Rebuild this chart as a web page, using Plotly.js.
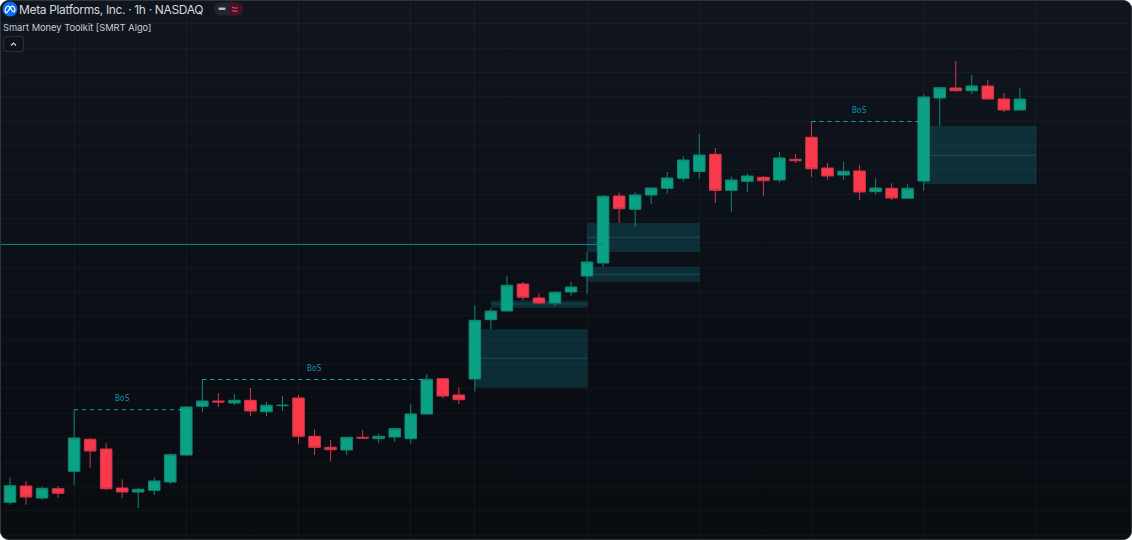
<!DOCTYPE html>
<html>
<head>
<meta charset="utf-8">
<script src="https://cdn.plot.ly/plotly-3.0.1.min.js"></script>
<style>
html,body{margin:0;padding:0;background:#fff;width:1132px;height:540px;overflow:hidden}
#frame{position:absolute;left:0;top:0;width:1132px;height:540px;border-radius:9px;overflow:hidden;
 background:linear-gradient(180deg,#11151e 0%,#0d1119 35%,#0a0d13 75%,#090c11 100%)}
#chart{position:absolute;left:0;top:0;width:1132px;height:540px}
#edge{position:absolute;left:0;top:0;width:1130px;height:538px;border:1px solid #30343c;border-radius:9px;pointer-events:none}
.chrome{position:absolute;left:0;top:0;pointer-events:none}
</style>
</head>
<body>
<div id="frame">
  <div id="chart"></div>
  <svg class="chrome" width="260" height="60">
    <circle cx="10" cy="9" r="7.5" fill="#0a6cf0"/>
    <path d="M5.2 11.3c0-3 1.5-5.2 3-5.2 2 0 3.8 5.8 5.4 5.8 .9 0 1.3-.7 1.3-1.7 0-2.2-1.2-4.1-2.5-4.1-1.2 0-2.3 1.7-3.6 3.9-1.1 1.9-1.8 2.8-2.6 2.8-.6 0-1-.5-1-1.5z" fill="none" stroke="#fff" stroke-width="1.3"/>
    <rect x="214" y="2.5" width="29" height="13" rx="6.5" fill="#23262f"/>
    <path d="M229 2.5h7.5a6.5 6.5 0 0 1 0 13H229z" fill="#451327"/>
    <rect x="218.5" y="7.5" width="7" height="2.6" rx="1.2" fill="#b9bcc4"/>
    <path d="M232 7.6c1.3-1 2.4 .8 3.7 .6 .9-.1 1.3-.4 1.8-.8M232 10.8c1.3-1 2.4 .8 3.7 .6 .9-.1 1.3-.4 1.8-.8" fill="none" stroke="#f23a5a" stroke-width="1.2"/>
    <rect x="3.5" y="36.5" width="20" height="15" rx="2.5" fill="#0f131b" stroke="#2c3038"/>
    <path d="M11 45.5l2.5-2.5 2.5 2.5" fill="none" stroke="#d5d8de" stroke-width="1.2"/>
  </svg>
  <div id="edge"></div>
</div>
<script>
// Bar values, one entry per hourly candle
var opens  = [549.77,551.4,550.2,551.13,552.87,556.07,555.1,551.2,550.8,550.97,551.8,554.5,559.37,559.9,559.7,559.97,558.83,559.43,560.2,556.37,555.27,555,556.27,556.13,556.3,556.13,558.6,562.13,560.5,562.1,568.03,568.9,571.6,570.2,569.7,570.8,572.4,573.7,580.4,579.07,580.5,581.17,582.17,582.85,584.57,580.97,581.87,582.27,582,584.07,586.27,583.2,582.5,582.9,580.83,581.17,580.17,581.9,590.2,591.2,590.93,591.4,590.1,589];
var highs  = [552.27,551.9,551.33,551.4,559.03,556.2,555.67,552.07,551.2,552.27,554.67,559.4,562.07,560.7,560.6,561.2,559.83,560.4,560.5,557.07,556,556.27,557,556.67,557.23,559.6,562.6,562.2,561.27,569.5,569.2,572.4,571.8,570.67,570.9,571.8,574.8,580.5,580.73,580.8,581.2,582.8,584.4,586.6,585.2,582.33,582.67,582.4,584.8,584.6,587.87,583.7,583.83,583.53,582.17,581.67,581.6,590.57,591.23,593.9,592.5,592,590.7,591.2];
var lows   = [549.53,549.53,550.03,550.2,551.5,553.23,551,550.2,549.2,550.5,551.63,554.4,558.8,559.3,559.47,558.4,558.4,558.9,555.63,554.5,553.9,554.5,556.1,555.67,555.8,555.63,558.5,560.17,559.6,560.83,567.07,568.9,569.93,569.6,569.4,570.43,570.63,573.3,577.7,577.33,579.6,580.67,581.83,582.15,579.7,578.83,580.8,580.4,581.73,583.7,582.3,582.03,582.03,580,580.53,580,580.17,580.93,587.4,590.83,590.6,590.1,588.8,589];
var closes = [551.43,550.3,551.17,550.67,556.2,554.9,551.13,550.8,551.07,551.9,554.53,559.3,559.9,559.8,559.97,558.9,559.47,559.47,556.37,555.27,555.03,556.27,556.2,556.37,557.13,558.6,562.07,560.4,560.03,567.97,568.9,571.47,570.27,569.7,570.77,571.3,573.8,580.37,579.13,580.5,581.2,582.2,584,584.5,580.97,582,582.4,581.93,584.2,583.93,583.13,582.4,582.87,580.8,581.2,580.2,581.17,590.3,591.23,590.93,591.4,590.1,589,590.1];

// Order-block zones
var zoneStart = [29,30,36,36,57];
var zoneEnd   = [36.03,36.03,43.03,43.03,64.03];
var zoneTop   = [567.07,569.93,577.7,573.3,587.4];
var zoneBot   = [561.26,569.23,574.8,571.83,581.6];
var zoneMid   = [564.17,569.6,576.27,572.57,584.47];

// Break-of-structure levels
var bosStart = [4,12,50];
var bosEnd   = [11,26,57];
var bosLevel = [559.03,562.05,587.85];
var bosLabelBar = [7,19,53];

// Long horizontal level
var levelPrice = 575.55;
var levelEnd = 37;

// Grid
var sessionBars = [4,11,18,25,29,36,43,50,57,64];

var bars = opens.map(function(_, i){ return i; });

var traces = [];
bosLevel.forEach(function(v, i){
  traces.push({type:'scatter',mode:'lines',x:[bosStart[i],bosEnd[i]],y:[v,v],hoverinfo:'skip',showlegend:false,
    line:{color:'#1fa3ac',width:1,dash:'4px,4px'}});
});
traces.push({type:'scatter',mode:'lines',x:[-1,levelEnd],y:[levelPrice,levelPrice],hoverinfo:'skip',showlegend:false,
  line:{color:'#14808f',width:1}});
traces.push({type:'candlestick',x:bars,open:opens,high:highs,low:lows,close:closes,showlegend:false,hoverinfo:'skip',
  whiskerwidth:0,
  increasing:{fillcolor:'#0ca084',line:{color:'#0d8a73',width:1}},
  decreasing:{fillcolor:'#f9394c',line:{color:'#d83548',width:1}}});

var shapes = [];
zoneStart.forEach(function(s, i){
  shapes.push({type:'rect',layer:'below',xref:'x',yref:'y',x0:s,x1:zoneEnd[i],y0:zoneBot[i],y1:zoneTop[i],
    fillcolor:'rgba(20,130,145,0.27)',line:{width:0}});
  shapes.push({type:'line',layer:'below',xref:'x',yref:'y',x0:s,x1:zoneEnd[i],y0:zoneMid[i],y1:zoneMid[i],
    line:{color:'rgba(45,140,155,0.35)',width:1}});
});

var annotations = [
  {xref:'paper',yref:'paper',x:19/1132,xshift:-2,y:1-9/540,xanchor:'left',yanchor:'middle',align:'left',showarrow:false,
   text:'Meta Platforms, Inc. · 1h · NASDAQ',font:{family:'Inter, Liberation Sans, sans-serif',size:12,color:'#d6d9df'}},
  {xref:'paper',yref:'paper',x:3/1132,xshift:-2,y:1-27/540,xanchor:'left',yanchor:'middle',showarrow:false,
   text:'Smart Money Toolkit [SMRT Algo]',font:{family:'Inter, Liberation Sans, sans-serif',size:9.3,color:'#c9ccd2'}}
];
bosLabelBar.forEach(function(b, i){
  annotations.push({xref:'x',yref:'y',x:b,y:bosLevel[i],yshift:11.5,xanchor:'center',yanchor:'middle',showarrow:false,
    text:'BoS',font:{family:'DejaVu Sans Mono, monospace',size:8,color:'#0e8fb0'}});
});

var layout = {
  width:1132,height:540,margin:{l:0,r:0,t:0,b:0,pad:0},
  paper_bgcolor:'rgba(0,0,0,0)',plot_bgcolor:'rgba(0,0,0,0)',
  boxgap:0.28,boxgroupgap:0,showlegend:false,dragmode:false,hovermode:false,
  xaxis:{range:[-0.624,69.995],fixedrange:true,rangeslider:{visible:false},zeroline:false,showline:false,
    tickmode:'array',tickvals:sessionBars,ticks:'',showticklabels:false,showgrid:true,gridcolor:'rgba(255,255,255,0.035)',gridwidth:1},
  yaxis:{range:[546,600],fixedrange:true,zeroline:false,showline:false,
    tick0:558.67,dtick:2.435,tickmode:'linear',ticks:'',showticklabels:false,showgrid:true,gridcolor:'rgba(255,255,255,0.03)',gridwidth:1},
  shapes:shapes,annotations:annotations
};
Plotly.newPlot('chart',traces,layout,{displayModeBar:false,staticPlot:true}).then(function(){
  var t = document.querySelector('#chart .annotation-text');
  if (t) t.style.letterSpacing = '-0.35px';
});
</script>
</body>
</html>
